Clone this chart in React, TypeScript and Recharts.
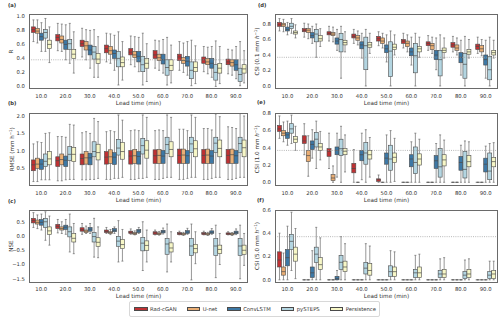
import React from "react";
import { ComposedChart, Bar, XAxis, YAxis, ReferenceLine } from "recharts";

type Stat = [number, number, number, number, number]; // [min, q1, median, q3, max]

const LEAD_TIMES = ["10.0", "20.0", "30.0", "40.0", "50.0", "60.0", "70.0", "80.0", "90.0"];
const MODELS = ["Rad-cGAN", "U-net", "ConvLSTM", "pySTEPS", "Persistence"];
const FILLS = ["#bf3133", "#eaae74", "#3d78a5", "#b3d5e1", "#f7f7c7"];

// (a) R
const R_RAD: Stat[] = [[0.63,0.76,0.80,0.84,0.94],[0.50,0.64,0.69,0.73,0.89],[0.41,0.56,0.60,0.65,0.82],[0.34,0.47,0.53,0.58,0.75],[0.30,0.44,0.48,0.53,0.71],[0.25,0.39,0.44,0.50,0.65],[0.22,0.36,0.41,0.45,0.63],[0.20,0.32,0.37,0.41,0.56],[0.17,0.30,0.34,0.38,0.52]];
const R_UNET: Stat[] = [[0.61,0.75,0.78,0.82,0.94],[0.49,0.61,0.66,0.71,0.88],[0.37,0.51,0.57,0.63,0.80],[0.32,0.45,0.50,0.56,0.74],[0.27,0.40,0.44,0.49,0.70],[0.22,0.36,0.40,0.45,0.64],[0.19,0.32,0.36,0.40,0.61],[0.17,0.30,0.34,0.39,0.55],[0.15,0.28,0.33,0.37,0.51]];
const R_CONV: Stat[] = [[0.49,0.65,0.70,0.75,0.90],[0.37,0.52,0.59,0.65,0.87],[0.25,0.44,0.51,0.58,0.79],[0.22,0.39,0.46,0.51,0.72],[0.20,0.34,0.42,0.49,0.69],[0.18,0.31,0.37,0.45,0.66],[0.15,0.28,0.35,0.42,0.63],[0.12,0.25,0.32,0.39,0.56],[0.10,0.22,0.30,0.37,0.56]];
const R_PYSTEPS: Stat[] = [[0.49,0.68,0.76,0.80,0.96],[0.32,0.52,0.60,0.66,0.89],[0.12,0.38,0.48,0.56,0.80],[0.01,0.27,0.39,0.49,0.77],[0.01,0.20,0.30,0.42,0.75],[0.01,0.15,0.26,0.37,0.69],[0.00,0.10,0.22,0.34,0.65],[-0.01,0.08,0.19,0.30,0.64],[0.00,0.06,0.16,0.25,0.63]];
const R_PERS: Stat[] = [[0.33,0.53,0.59,0.65,0.84],[0.18,0.39,0.45,0.52,0.77],[0.12,0.32,0.38,0.46,0.70],[0.08,0.27,0.33,0.41,0.63],[0.06,0.25,0.32,0.39,0.60],[0.04,0.22,0.29,0.37,0.58],[0.03,0.20,0.26,0.34,0.57],[0.03,0.18,0.25,0.32,0.56],[0.04,0.18,0.24,0.30,0.50]];

// (b) RMSE
const RMSE_RAD: Stat[] = [[0.12,0.43,0.60,0.74,1.20],[0.14,0.55,0.72,0.83,1.41],[0.17,0.60,0.78,0.91,1.52],[0.18,0.62,0.82,0.98,1.55],[0.18,0.62,0.85,1.01,1.58],[0.18,0.64,0.86,1.03,1.58],[0.18,0.64,0.87,1.05,1.62],[0.18,0.64,0.87,1.04,1.64],[0.18,0.64,0.87,1.04,1.69]];
const RMSE_UNET: Stat[] = [[0.12,0.50,0.62,0.79,1.26],[0.14,0.60,0.75,0.91,1.41],[0.17,0.62,0.80,0.98,1.55],[0.18,0.64,0.83,1.03,1.58],[0.18,0.64,0.86,1.04,1.60],[0.18,0.64,0.87,1.04,1.60],[0.18,0.64,0.88,1.05,1.62],[0.18,0.64,0.88,1.05,1.64],[0.18,0.64,0.89,1.05,1.67]];
const RMSE_CONV: Stat[] = [[0.17,0.47,0.62,0.76,1.24],[0.17,0.55,0.73,0.85,1.39],[0.18,0.60,0.80,0.93,1.50],[0.21,0.61,0.82,0.95,1.55],[0.21,0.62,0.84,0.98,1.58],[0.21,0.64,0.85,1.01,1.58],[0.21,0.64,0.86,1.01,1.58],[0.21,0.64,0.85,1.01,1.60],[0.21,0.64,0.86,1.01,1.64]];
const RMSE_PYSTEPS: Stat[] = [[0.17,0.55,0.70,0.91,1.50],[0.18,0.72,0.90,1.12,1.76],[0.18,0.83,0.98,1.26,1.93],[0.21,0.88,1.08,1.33,2.03],[0.21,0.91,1.15,1.36,2.03],[0.24,0.93,1.18,1.39,2.03],[0.24,0.95,1.20,1.39,2.03],[0.24,0.95,1.22,1.39,2.06],[0.24,0.95,1.21,1.39,2.07]];
const RMSE_PERS: Stat[] = [[0.17,0.60,0.77,0.98,1.52],[0.18,0.69,0.90,1.10,1.74],[0.21,0.74,0.95,1.19,1.84],[0.24,0.76,0.98,1.24,1.88],[0.24,0.79,1.02,1.29,1.96],[0.24,0.83,1.04,1.26,1.96],[0.24,0.83,1.06,1.29,1.96],[0.24,0.83,1.07,1.31,1.98],[0.24,0.83,1.09,1.31,2.00]];

// (c) NSE
const NSE_RAD: Stat[] = [[0.30,0.46,0.54,0.62,0.82],[0.11,0.26,0.34,0.41,0.58],[0.06,0.17,0.22,0.29,0.44],[0.09,0.12,0.16,0.21,0.30],[0.06,0.09,0.13,0.17,0.25],[0.04,0.06,0.11,0.15,0.21],[0.04,0.05,0.09,0.12,0.17],[0.04,0.05,0.09,0.12,0.17],[0.04,0.05,0.08,0.11,0.15]];
const NSE_UNET: Stat[] = [[0.26,0.42,0.48,0.56,0.74],[0.09,0.21,0.26,0.32,0.50],[0.09,0.12,0.17,0.21,0.35],[0.05,0.09,0.12,0.15,0.23],[0.04,0.06,0.09,0.12,0.18],[0.03,0.05,0.08,0.11,0.16],[0.02,0.04,0.07,0.10,0.13],[0.02,0.04,0.07,0.10,0.13],[0.02,0.04,0.07,0.10,0.12]];
const NSE_CONV: Stat[] = [[0.21,0.38,0.48,0.58,0.77],[0.06,0.23,0.31,0.38,0.58],[0.09,0.17,0.24,0.30,0.44],[0.09,0.15,0.20,0.26,0.32],[0.09,0.12,0.18,0.23,0.30],[0.07,0.11,0.15,0.20,0.28],[0.06,0.09,0.14,0.19,0.27],[0.06,0.09,0.13,0.18,0.26],[0.05,0.08,0.12,0.17,0.25]];
const NSE_PYSTEPS: Stat[] = [[-0.15,0.30,0.50,0.62,0.85],[-0.56,-0.03,0.15,0.32,0.77],[-0.74,-0.21,-0.02,0.12,0.62],[-0.91,-0.36,-0.18,-0.01,0.54],[-1.21,-0.52,-0.25,-0.05,0.50],[-1.26,-0.64,-0.28,-0.09,0.42],[-1.54,-0.68,-0.35,-0.09,0.42],[-1.46,-0.68,-0.35,-0.09,0.38],[-1.50,-0.68,-0.35,-0.09,0.38]];
const NSE_PERS: Stat[] = [[-0.32,0.06,0.18,0.32,0.70],[-0.62,-0.21,-0.08,0.09,0.44],[-0.76,-0.36,-0.22,-0.06,0.32],[-0.88,-0.44,-0.30,-0.12,0.23],[-0.91,-0.50,-0.33,-0.17,0.21],[-0.91,-0.56,-0.42,-0.24,0.15],[-0.97,-0.59,-0.44,-0.29,0.15],[-1.00,-0.62,-0.47,-0.32,0.09],[-1.03,-0.64,-0.50,-0.32,0.09]];

// (d) CSI 0.1 mm/h
const CSI01_RAD: Stat[] = [[0.71,0.77,0.79,0.82,0.87],[0.63,0.70,0.72,0.74,0.81],[0.58,0.66,0.68,0.70,0.77],[0.55,0.62,0.64,0.67,0.73],[0.52,0.58,0.61,0.64,0.70],[0.49,0.55,0.58,0.60,0.68],[0.46,0.52,0.55,0.57,0.65],[0.44,0.50,0.53,0.56,0.64],[0.42,0.47,0.51,0.54,0.63]];
const CSI01_UNET: Stat[] = [[0.70,0.77,0.79,0.81,0.86],[0.61,0.69,0.72,0.74,0.80],[0.57,0.65,0.67,0.69,0.76],[0.53,0.59,0.62,0.65,0.71],[0.49,0.55,0.58,0.62,0.68],[0.44,0.51,0.55,0.58,0.66],[0.42,0.47,0.52,0.55,0.63],[0.40,0.46,0.49,0.53,0.62],[0.39,0.44,0.48,0.52,0.60]];
const CSI01_CONV: Stat[] = [[0.66,0.71,0.73,0.76,0.82],[0.55,0.62,0.65,0.69,0.77],[0.46,0.54,0.58,0.62,0.73],[0.36,0.48,0.53,0.57,0.68],[0.31,0.43,0.48,0.53,0.66],[0.27,0.39,0.44,0.49,0.63],[0.21,0.34,0.40,0.46,0.62],[0.14,0.30,0.37,0.43,0.59],[0.10,0.27,0.34,0.40,0.59]];
const CSI01_PYSTEPS: Stat[] = [[0.68,0.74,0.77,0.81,0.87],[0.37,0.57,0.67,0.73,0.80],[0.10,0.44,0.60,0.68,0.77],[0.00,0.21,0.52,0.63,0.73],[0.00,0.12,0.45,0.57,0.71],[0.00,0.17,0.39,0.55,0.68],[0.00,0.13,0.34,0.46,0.66],[0.00,0.10,0.28,0.42,0.64],[0.00,0.08,0.21,0.38,0.63]];
const CSI01_PERS: Stat[] = [[0.62,0.67,0.69,0.71,0.79],[0.51,0.58,0.61,0.65,0.74],[0.44,0.53,0.56,0.59,0.70],[0.42,0.50,0.53,0.56,0.68],[0.40,0.47,0.50,0.54,0.66],[0.37,0.44,0.48,0.51,0.63],[0.36,0.43,0.46,0.49,0.62],[0.36,0.41,0.44,0.47,0.60],[0.36,0.40,0.43,0.46,0.59]];

// (e) CSI 1.0 mm/h
const CSI10_RAD: Stat[] = [[0.51,0.59,0.62,0.66,0.77],[0.32,0.45,0.48,0.54,0.68],[0.16,0.30,0.36,0.39,0.57],[0.00,0.11,0.16,0.22,0.38],[0.00,0.01,0.03,0.04,0.085],[0,0,0,0,0],[0,0,0,0,0],[0,0,0,0,0],[0,0,0,0,0]];
const CSI10_UNET: Stat[] = [[0.47,0.54,0.57,0.60,0.70],[0.07,0.24,0.31,0.37,0.54],[0.00,0.02,0.05,0.09,0.19],[0,0,0,0,0],[0,0,0,0,0],[0,0,0,0,0],[0,0,0,0,0],[0,0,0,0,0],[0,0,0,0,0]];
const CSI10_CONV: Stat[] = [[0.43,0.51,0.55,0.58,0.71],[0.28,0.38,0.44,0.48,0.61],[0.06,0.32,0.37,0.41,0.57],[0.03,0.25,0.32,0.37,0.57],[0.00,0.21,0.28,0.34,0.55],[0.00,0.18,0.27,0.32,0.47],[0.00,0.16,0.25,0.31,0.45],[0.00,0.14,0.23,0.30,0.43],[0.00,0.12,0.21,0.28,0.42]];
const CSI10_PYSTEPS: Stat[] = [[0.45,0.57,0.62,0.68,0.78],[0.16,0.41,0.50,0.58,0.71],[0.00,0.31,0.39,0.50,0.65],[0.00,0.21,0.34,0.46,0.61],[0.00,0.14,0.27,0.43,0.60],[0.00,0.10,0.23,0.41,0.57],[0.00,0.06,0.18,0.39,0.55],[0.00,0.05,0.15,0.36,0.48],[0.00,0.03,0.13,0.34,0.45]];
const CSI10_PERS: Stat[] = [[0.37,0.46,0.50,0.53,0.65],[0.26,0.37,0.41,0.45,0.59],[0.12,0.32,0.36,0.39,0.55],[0.06,0.27,0.32,0.37,0.52],[0.01,0.23,0.29,0.34,0.51],[0.00,0.20,0.27,0.33,0.50],[0.00,0.19,0.26,0.32,0.49],[0.00,0.18,0.24,0.31,0.47],[0.00,0.18,0.24,0.29,0.46]];

// (f) CSI 5.0 mm/h
const CSI50_RAD: Stat[] = [[0.00,0.11,0.17,0.24,0.40],[0,0,0,0,0],[0,0,0,0,0],[0,0,0,0,0],[0,0,0,0,0],[0,0,0,0,0],[0,0,0,0,0],[0,0,0,0,0],[0,0,0,0,0]];
const CSI50_UNET: Stat[] = [[0.00,0.04,0.07,0.11,0.23],[0,0,0,0,0],[0,0,0,0,0],[0,0,0,0,0],[0,0,0,0,0],[0,0,0,0,0],[0,0,0,0,0],[0,0,0,0,0],[0,0,0,0,0]];
const CSI50_CONV: Stat[] = [[0.00,0.12,0.19,0.26,0.46],[0.00,0.02,0.06,0.11,0.25],[0.00,0.00,0.01,0.03,0.08],[0,0,0,0,0],[0,0,0,0,0],[0,0,0,0,0],[0,0,0,0,0],[0,0,0,0,0],[0,0,0,0,0]];
const CSI50_PYSTEPS: Stat[] = [[0.08,0.26,0.33,0.39,0.58],[0.00,0.15,0.22,0.28,0.45],[0.00,0.09,0.15,0.21,0.37],[0.00,0.05,0.10,0.15,0.31],[0.00,0.03,0.07,0.12,0.25],[0.00,0.02,0.06,0.09,0.21],[0.00,0.02,0.05,0.08,0.18],[0.00,0.01,0.04,0.07,0.17],[0.00,0.01,0.04,0.07,0.16]];
const CSI50_PERS: Stat[] = [[0.01,0.16,0.22,0.28,0.44],[0.00,0.09,0.13,0.19,0.36],[0.00,0.07,0.11,0.16,0.31],[0.00,0.04,0.08,0.14,0.29],[0.00,0.03,0.07,0.11,0.24],[0.00,0.02,0.06,0.11,0.22],[0.00,0.02,0.05,0.09,0.19],[0.00,0.02,0.05,0.09,0.18],[0.00,0.01,0.05,0.08,0.16]];

const REF_VALUE = 0.37;

const FONT = "DejaVu Sans, sans-serif";
const TEXT = "#333";
const EDGE = "#4a4a4a";
const WHISKER = "#6a6a6a";
const FRAME = "#6a6a6a";

type YLabelSpec = { pre: string; italicH?: boolean; unit?: boolean };

type PanelSpec = {
  tag: string;
  left: number;
  top: number;
  height: number;
  plotTop: number;
  plotBottom: number;
  axisW: number;
  domain: [number, number];
  ticks: number[];
  series: Stat[][];
  ylabel: YLabelSpec;
  ylabelX: number;
  ref: boolean;
};

const PANELS: PanelSpec[] = [
  { tag: "(a)", left: 0, top: 0, height: 110, plotTop: 14, plotBottom: 89, axisW: 29, domain: [-0.047, 1.024], ticks: [0, 0.2, 0.4, 0.6, 0.8, 1.0], series: [R_RAD, R_UNET, R_CONV, R_PYSTEPS, R_PERS], ylabel: { pre: "R" }, ylabelX: 11, ref: true },
  { tag: "(b)", left: 0, top: 100, height: 110, plotTop: 12.5, plotBottom: 86, axisW: 29, domain: [-0.008, 2.1], ticks: [0.5, 1.0, 1.5, 2.0], series: [RMSE_RAD, RMSE_UNET, RMSE_CONV, RMSE_PYSTEPS, RMSE_PERS], ylabel: { pre: "RMSE (mm ", unit: true }, ylabelX: 11.5, ref: false },
  { tag: "(c)", left: 0, top: 196, height: 122, plotTop: 13.5, plotBottom: 86.5, axisW: 29, domain: [-1.63, 0.93], ticks: [-1.5, -1.0, -0.5, 0.0, 0.5], series: [NSE_RAD, NSE_UNET, NSE_CONV, NSE_PYSTEPS, NSE_PERS], ylabel: { pre: "NSE" }, ylabelX: 10.5, ref: false },
  { tag: "(d)", left: 250, top: 0, height: 110, plotTop: 14, plotBottom: 89, axisW: 25, domain: [-0.039, 0.929], ticks: [0, 0.2, 0.4, 0.6, 0.8], series: [CSI01_RAD, CSI01_UNET, CSI01_CONV, CSI01_PYSTEPS, CSI01_PERS], ylabel: { pre: "CSI (0.1 mm ", italicH: true, unit: true }, ylabelX: 7.3, ref: true },
  { tag: "(e)", left: 250, top: 100, height: 110, plotTop: 12.5, plotBottom: 86, axisW: 25, domain: [-0.043, 0.81], ticks: [0, 0.2, 0.4, 0.6, 0.8], series: [CSI10_RAD, CSI10_UNET, CSI10_CONV, CSI10_PYSTEPS, CSI10_PERS], ylabel: { pre: "CSI (1.0 mm ", italicH: true, unit: true }, ylabelX: 7, ref: true },
  { tag: "(f)", left: 250, top: 196, height: 122, plotTop: 13.5, plotBottom: 86.5, axisW: 25, domain: [-0.023, 0.603], ticks: [0, 0.2, 0.4, 0.6], series: [CSI50_RAD, CSI50_UNET, CSI50_CONV, CSI50_PYSTEPS, CSI50_PERS], ylabel: { pre: "CSI (5.0 mm ", italicH: true, unit: true }, ylabelX: 7.3, ref: true },
];

const fmt = (v: number) => (v < -1e-9 ? "\u2212" : "") + Math.abs(v).toFixed(1);

function buildRows(series: Stat[][]) {
  return LEAD_TIMES.map((lead, i) => {
    const row: Record<string, any> = { lead };
    series.forEach((s, j) => {
      row["m" + j] = s[i];
    });
    return row;
  });
}

function BoxShape(props: any) {
  const { x, y, width, height, payload, seriesKey, lo, hi, fill } = props;
  const s: Stat | undefined = payload ? payload[seriesKey] : undefined;
  if (!s || !isFinite(x) || !isFinite(y)) return null;
  const py = (v: number) => y + ((hi - v) / (hi - lo)) * height;
  const [mn, q1, md, q3, mx] = s.map(py);
  const cx = x + width / 2;
  const cap = width * 0.25;
  return (
    <g>
      <line x1={cx} x2={cx} y1={mx} y2={q3} stroke={WHISKER} strokeWidth={0.7} />
      <line x1={cx} x2={cx} y1={q1} y2={mn} stroke={WHISKER} strokeWidth={0.7} />
      <line x1={cx - cap} x2={cx + cap} y1={mx} y2={mx} stroke={WHISKER} strokeWidth={0.7} />
      <line x1={cx - cap} x2={cx + cap} y1={mn} y2={mn} stroke={WHISKER} strokeWidth={0.7} />
      <rect x={x} y={q3} width={width} height={Math.max(q1 - q3, 0)} fill={fill} stroke={EDGE} strokeWidth={0.6} />
      <line x1={x} x2={x + width} y1={md} y2={md} stroke={EDGE} strokeWidth={0.7} />
    </g>
  );
}

function YTitle(props: any) {
  const { cx, cy, spec } = props as { cx: number; cy: number; spec: YLabelSpec };
  return (
    <text
      x={cx}
      y={cy}
      transform={`rotate(-90 ${cx} ${cy})`}
      textAnchor="middle"
      dominantBaseline="central"
      style={{ fontFamily: FONT, fontSize: 5.6 }}
      fill={TEXT}
    >
      <tspan>{spec.pre}</tspan>
      {spec.unit ? (
        <>
          <tspan fontStyle={spec.italicH ? "italic" : "normal"}>h</tspan>
          <tspan fontSize={4} dy={-2}>{"\u22121"}</tspan>
          <tspan dy={2}>)</tspan>
        </>
      ) : null}
    </text>
  );
}

function XTitle(props: any) {
  const { cx, cy } = props;
  return (
    <text x={cx} y={cy} textAnchor="middle" dominantBaseline="central" style={{ fontFamily: FONT, fontSize: 5.7 }} fill={TEXT}>
      Lead time (min)
    </text>
  );
}

function Panel({ p }: { p: PanelSpec }) {
  const W = 250;
  const rows = buildRows(p.series);
  const [lo, hi] = p.domain;
  const plotLeft = p.axisW;
  const plotRight = W - 2;
  const axisH = p.height - p.plotBottom;
  return (
    <div style={{ position: "absolute", left: p.left, top: p.top, width: W, height: p.height }}>
      <ComposedChart
        width={W}
        height={p.height}
        data={rows}
        margin={{ top: p.plotTop, right: 2, bottom: 0, left: 0 }}
        barCategoryGap="10%"
        barGap={0}
      >
        <XAxis
          dataKey="lead"
          type="category"
          interval={0}
          tickLine={false}
          axisLine={false}
          tickSize={0}
          tickMargin={4.8}
          height={axisH}
          tick={{ fontSize: 5.3, fill: TEXT, fontFamily: FONT }}
          label={<XTitle cx={(plotLeft + plotRight) / 2} cy={p.plotBottom + 13.8} />}
        />
        <YAxis
          type="number"
          domain={[lo, hi]}
          allowDataOverflow
          ticks={p.ticks}
          tickFormatter={fmt}
          width={p.axisW}
          tickLine={false}
          axisLine={false}
          tickSize={0}
          tickMargin={4}
          tick={{ fontSize: 5.3, fill: TEXT, fontFamily: FONT }}
          label={<YTitle cx={p.ylabelX} cy={(p.plotTop + p.plotBottom) / 2} spec={p.ylabel} />}
        />
        {p.ref ? (
          <ReferenceLine y={REF_VALUE} stroke="#9a9a9a" strokeWidth={0.7} strokeDasharray="1 1.2" />
        ) : null}
        {MODELS.map((m, j) => (
          <Bar
            key={m}
            name={m}
            dataKey={() => [lo, hi]}
            isAnimationActive={false}
            fill={FILLS[j]}
            shape={(sp: any) => <BoxShape {...sp} seriesKey={"m" + j} lo={lo} hi={hi} fill={FILLS[j]} />}
          />
        ))}
      </ComposedChart>
      <div
        style={{
          position: "absolute",
          left: plotLeft,
          top: p.plotTop,
          width: plotRight - plotLeft,
          height: p.plotBottom - p.plotTop,
          border: `1px solid ${FRAME}`,
          boxSizing: "border-box",
          pointerEvents: "none",
        }}
      />
    </div>
  );
}

const TAGS = [
  { t: "(a)", x: 8, y: 5 },
  { t: "(b)", x: 8, y: 103 },
  { t: "(c)", x: 8, y: 200.5 },
  { t: "(d)", x: 258, y: 5 },
  { t: "(e)", x: 257, y: 102 },
  { t: "(f)", x: 257, y: 199.5 },
];

function Legend() {
  return (
    <div
      style={{
        position: "absolute",
        left: 129,
        top: 301,
        width: 251,
        height: 16,
        border: "1px solid #d8d8d8",
        borderRadius: 2,
        boxSizing: "border-box",
        display: "flex",
        alignItems: "center",
        paddingLeft: 4,
        gap: 10,
        fontFamily: FONT,
        fontSize: 5.3,
        color: TEXT,
        background: "#fff",
      }}
    >
      {MODELS.map((m, j) => (
        <div key={m} style={{ display: "flex", alignItems: "center", gap: 2.5 }}>
          <div
            style={{
              width: 13.5,
              height: 4.5,
              background: FILLS[j],
              border: `0.6px solid ${EDGE}`,
              boxSizing: "border-box",
            }}
          />
          <span style={{ lineHeight: "6px", whiteSpace: "nowrap" }}>{m}</span>
        </div>
      ))}
    </div>
  );
}

export default function App() {
  return (
    <div
      style={{
        position: "absolute",
        left: 0,
        top: 0,
        width: 500,
        height: 318,
        background: "#fff",
        overflow: "hidden",
        fontFamily: FONT,
      }}
    >
      {PANELS.map((p) => (
        <Panel key={p.tag} p={p} />
      ))}
      <svg width={500} height={318} style={{ position: "absolute", left: 0, top: 0, pointerEvents: "none" }}>
        {TAGS.map((g) => (
          <text key={g.t} x={g.x} y={g.y} dominantBaseline="central" style={{ fontFamily: FONT, fontSize: 5.2, fontWeight: "bold" }} fill={TEXT}>
            {g.t}
          </text>
        ))}
      </svg>
      <Legend />
    </div>
  );
}
